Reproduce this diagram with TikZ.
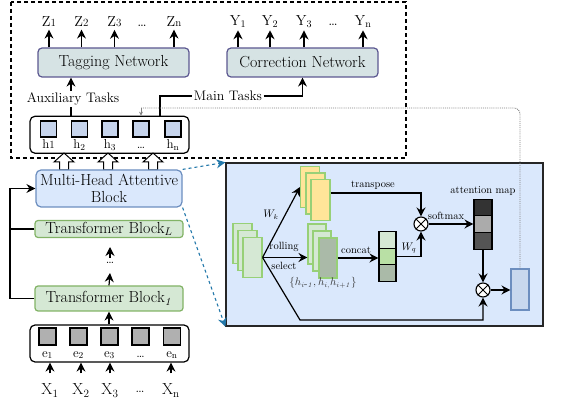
\documentclass[tikz,border=0pt]{standalone}
\usetikzlibrary{arrows.meta,calc}
\definecolor{netfill}{RGB}{214,227,228}
\definecolor{netdraw}{RGB}{92,88,145}
\definecolor{bluefill}{RGB}{218,232,252}
\definecolor{bluedraw}{RGB}{108,142,191}
\definecolor{greenfill}{RGB}{213,232,212}
\definecolor{greendraw}{RGB}{130,179,102}
\definecolor{lgreendraw}{RGB}{151,208,119}
\definecolor{yellowfill}{RGB}{255,229,153}
\definecolor{hfill}{RGB}{198,212,236}
\definecolor{efill}{RGB}{176,176,176}
\definecolor{dgreenfill}{RGB}{170,186,168}
\definecolor{mgreenfill}{RGB}{185,224,165}
\definecolor{outfill}{RGB}{200,216,238}
\definecolor{linkblue}{RGB}{35,120,170}
\newcommand{\bigf}{\fontsize{16}{17}\selectfont}
\newcommand{\midf}{\fontsize{13.8}{15}\selectfont}
\newcommand{\lblf}{\fontsize{14.5}{15}\selectfont}
\newcommand{\smf}{\fontsize{13}{14}\selectfont}
\newcommand{\tinyf}{\fontsize{10.5}{12}\selectfont}
\newcommand{\dig}[1]{{\fontsize{11}{11}\selectfont #1}}
\begin{document}
\begin{tikzpicture}[x=1pt,y=-1pt,line width=1.2pt,
  >={Stealth[length=9pt,width=9pt,inset=3pt]},
  netbox/.style={draw=netdraw,fill=netfill,rounded corners=4pt,minimum width=151pt,minimum height=29pt,inner sep=0pt,font=\bigf},
  bluebox/.style={draw=bluedraw,fill=bluefill,rounded corners=5pt,inner sep=0pt,font=\bigf,align=center},
  greenbox/.style={draw=greendraw,fill=greenfill,rounded corners=3pt,inner sep=0pt,font=\bigf,minimum width=148pt},
  vecbox/.style={draw,rounded corners=5pt,minimum width=159pt,minimum height=37pt,inner sep=0pt},
  sq/.style={draw,line width=1.1pt,minimum size=16pt,inner sep=0pt},
  lbl/.style={anchor=base,inner sep=2pt,font=\lblf},
  smlbl/.style={anchor=base,inner sep=1pt,font=\smf},
  stk/.style={draw=lgreendraw,line width=1.1pt,minimum width=19pt,minimum height=40pt,inner sep=0pt},
  cell/.style={draw,line width=1.1pt,minimum width=17pt,minimum height=16.5pt,inner sep=0pt},
  mult/.style={circle,draw,fill=white,minimum size=14pt,inner sep=0pt,line width=1.1pt},
  tlbl/.style={font=\tinyf,inner sep=1pt},
  hollow/.pic={\draw[fill=white,line width=1pt] (-4.5,0) -- (-4.5,-8) -- (-10,-8) -- (0,-17) -- (10,-8) -- (4.5,-8) -- (4.5,0) -- cycle;}
]
\useasboundingbox (0,0) rectangle (582,409);

% dashed outer box
\draw[dash pattern=on 4pt off 3pt,line width=1.1pt] (11,2) rectangle (406,158);

% networks
\node[netbox] (tag) at (113.5,62.5) {Tagging Network};
\node[netbox] (corr) at (302.5,62.5) {Correction Network};

% Z labels
\node[lbl] (z1) at (49,27) {Z\dig{1}};
\node[lbl] (z2) at (81.5,27) {Z\dig{2}};
\node[lbl] (z3) at (114.5,27) {Z\dig{3}};
\node[lbl] (zd) at (142,27) {\dots};
\node[lbl] (zn) at (174,27) {Z\dig{n}};
\foreach \n in {z1,z2,z3,zn} \draw[->] (tag.north -| \n.south) -- (\n.south);

% Y labels
\node[lbl] (y1) at (238,25.5) {Y\textsubscript{1}};
\node[lbl] (y2) at (270,25.5) {Y\textsubscript{2}};
\node[lbl] (y3) at (304,25.5) {Y\textsubscript{3}};
\node[lbl] (yd) at (333,25.5) {\dots};
\node[lbl] (yn) at (363,25.5) {Y\textsubscript{n}};
\foreach \n in {y1,y2,y3,yn} \draw[->] (corr.north -| \n.south) -- (\n.south);

% h vector
\node[vecbox] (hbox) at (109.5,134.75) {};
\node[sq,fill=hfill] (h1) at (48.5,129) {};
\node[sq,fill=hfill] (h2) at (79.5,129) {};
\node[sq,fill=hfill] (h3) at (110,129) {};
\node[sq,fill=hfill] (h4) at (141,129) {};
\node[sq,fill=hfill] (h5) at (173,129) {};
\node[smlbl] (hl1) at (48.5,149) {h\dig{1}};
\node[smlbl] (hl2) at (79.5,149) {h\textsubscript{2}};
\node[smlbl] (hl3) at (110,149) {h\textsubscript{3}};
\node[smlbl] (hl4) at (141,149) {\dots};
\node[smlbl] (hl5) at (173,149) {h\textsubscript{n}};

% auxiliary / main tasks
\node[font=\midf,inner sep=1pt] (aux) at (73,99) {Auxiliary Tasks};
\coordinate (auxl) at (71,116.25);
\draw (auxl) -- (auxl |- aux.south);
\draw[->] (aux.north -| auxl) -- (tag.south -| auxl);
\node[font=\midf,inner sep=1pt] (main) at (228,96) {Main Tasks};
\coordinate (mainl) at (160,116.25);
\draw (mainl) |- (main.west);
\draw[->] (main.east) -| (corr.south);

% hollow arrows
\pic at (64,170) {hollow};
\pic at (108,170) {hollow};
\pic at (153,170) {hollow};

% encoder blocks
\node[bluebox,minimum width=146pt,minimum height=37pt] (mha) at (109,188.5) {Multi-Head Attentive\\Block};
\node[greenbox,minimum height=17pt] (tbl) at (109,229) {Transformer Block$_L$};
\node[greenbox,minimum height=25pt] (tb1) at (109,298.5) {Transformer Block$_{\mathit{1}}$};
\coordinate (loopb) at (10,298.5);
\draw[->] (tb1.west) -- (loopb) |- (mha.west);
\draw (tbl.west) -- (tbl.west -| loopb);
\node[inner sep=0pt,font=\smf] (vd) at (110,263) {\dots};
\coordinate (a1) at (110,273);
\coordinate (a2) at (110,258);
\coordinate (a3) at (110,247);
\draw[->] (tb1.north) -- (a1);
\draw[->] (a2) -- (a3);

% e vector
\node[vecbox] (ebox) at (109.5,343.5) {};
\node[sq,fill=efill,minimum size=17pt] (e1) at (47.5,336.5) {};
\node[sq,fill=efill,minimum size=17pt] (e2) at (78.5,336.5) {};
\node[sq,fill=efill,minimum size=17pt] (e3) at (109.5,336.5) {};
\node[sq,fill=efill,minimum size=17pt] (e4) at (140.5,336.5) {};
\node[sq,fill=efill,minimum size=17pt] (e5) at (172,336.5) {};
\node[smlbl] (el1) at (47.5,357) {e\textsubscript{1}};
\node[smlbl] (el2) at (78.5,357) {e\textsubscript{2}};
\node[smlbl] (el3) at (109.5,357) {e\textsubscript{3}};
\node[smlbl] (el4) at (140.5,357) {\dots};
\node[smlbl] (el5) at (172,357) {e\textsubscript{n}};
\draw[->] (ebox.north -| tb1.south) -- (tb1.south);

% X labels
\node[lbl,font=\bigf] (x1) at (50,395) {X\textsubscript{1}};
\node[lbl,font=\bigf] (x2) at (81,395) {X\textsubscript{2}};
\node[lbl,font=\bigf] (x3) at (110,395) {X\textsubscript{3}};
\node[lbl,font=\bigf] (xd) at (140,392) {\dots};
\node[lbl,font=\bigf] (xn) at (171,395) {X\textsubscript{n}};
\foreach \n in {x1,x2,x3,xn} \draw[->,shorten <=8pt] (\n.north) -- (\n.north |- ebox.south);

% detail box
\node[draw=black!85,fill=bluefill,line width=1.3pt,minimum width=317pt,minimum height=163pt,inner sep=0pt] (detail) at (384.5,244.5) {};
\draw[linkblue,dashed,line width=1.1pt,->] (mha.north east) -- (detail.north west);
\draw[linkblue,dashed,line width=1.1pt,->] (mha.south east) -- (detail.south west);

% left stack
\node[stk,fill=greenfill] (ls1) at (242.5,243.5) {};
\node[stk,fill=greenfill] (ls2) at (247.5,250.5) {};
\node[stk,fill=greenfill] (ls3) at (252.5,257.5) {};
% yellow stack
\node[stk,fill=yellowfill,minimum height=41pt] (ys1) at (310,187) {};
\node[stk,fill=yellowfill,minimum height=41pt] (ys2) at (315.5,193.5) {};
\node[stk,fill=yellowfill,minimum height=41pt] (ys3) at (320.5,200) {};
% middle stack
\node[stk,fill=greenfill,minimum width=18pt] (ms1) at (317,244) {};
\node[stk,fill=greenfill,minimum width=18pt] (ms2) at (322,251) {};
\node[stk,fill=dgreenfill,minimum width=18pt] (ms3) at (328,258) {};
\node[tlbl,text=black!80] (hset) at (323,283) {$\{h_{i\mbox{-}\mathit{1}},h_{i,}h_{i+\mathit{1}}\}$};

% column
\node[cell,fill=greenfill] (c1) at (387.5,240) {};
\node[cell,fill=mgreenfill] (c2) at (387.5,256.5) {};
\node[cell,fill=dgreenfill] (c3) at (387.5,273) {};

% attention map
\node[cell,fill=black!80,minimum width=18pt] (am1) at (483,207.5) {};
\node[cell,fill=black!33,minimum width=18pt] (am2) at (483,224.2) {};
\node[cell,fill=black!67,minimum width=18pt] (am3) at (483,240.9) {};
\node[tlbl] (amlbl) at (483,191) {attention map};

% multiply nodes
\node[mult] (m1) at (421,224) {};
\draw[line width=1pt] (m1.north west) -- (m1.south east) (m1.north east) -- (m1.south west);
\node[mult] (m2) at (483,290) {};
\draw[line width=1pt] (m2.north west) -- (m2.south east) (m2.north east) -- (m2.south west);

% output rectangle
\node[draw=bluedraw,fill=outfill,line width=1.1pt,minimum width=18pt,minimum height=41pt,inner sep=0pt] (outr) at (520,289.5) {};

% connectors in detail
\coordinate (bl) at (300,320);
\draw[->] (ls3.east) -- (ys1.west);
\draw[->] (ls3.east) -- (ls3.east -| ms1.west);
\draw[->] (ls3.east) -- (bl) -| (m2.south);
\draw[->] (ms3.east) -- (ms3.east -| c2.west);
\draw[->] (c2.east) -| (m1.south);
\draw[->] ($(ys3.east)+(0,-7)$) -| (m1.north);
\draw[->] (m1.east) -- (m1.east -| am2.west);
\draw[->] (am3.south) -- (m2.north);
\draw[->] (m2.east) -- (m2.east -| outr.west);

% labels in detail
\node[tlbl] (wk) at (271,215) {$W_k$};
\node[tlbl] (roll) at (284,247) {rolling};
\node[tlbl] (sel) at (284,266) {select};
\node[tlbl] (conc) at (356,250) {concat};
\node[tlbl] (wq) at (409,248) {$W_q$};
\node[tlbl] (tr) at (373,185) {transpose};
\node[tlbl] (sm) at (446,216) {softmax};

% dotted feedback
\coordinate (dotturn) at (141,108);
\draw[densely dotted,black!50,line width=0.9pt,rounded corners=6pt] (outr.north) |- (dotturn);
\draw[black!50,line width=0.7pt,-{Stealth[length=4pt,width=4pt]}] (dotturn) -- (dotturn |- hbox.north);
\end{tikzpicture}
\end{document}
